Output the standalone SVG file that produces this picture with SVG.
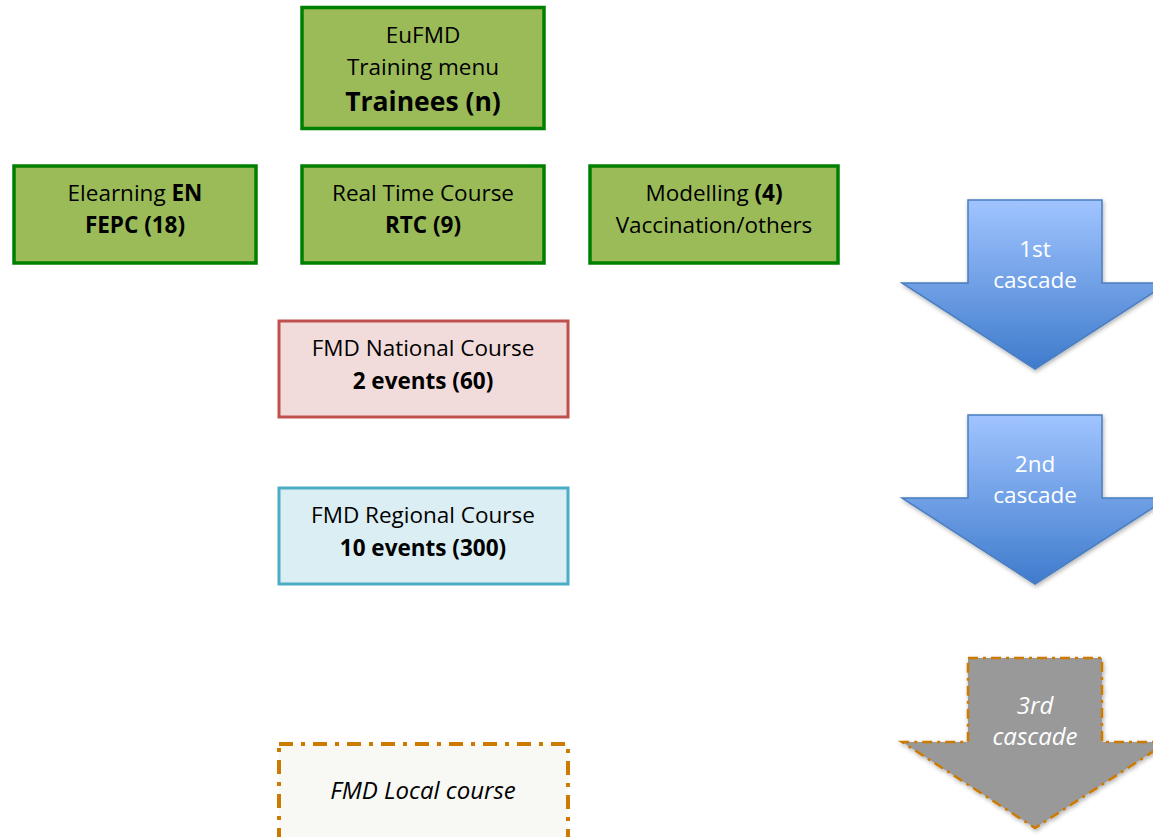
<svg xmlns="http://www.w3.org/2000/svg" width="1153" height="837" viewBox="0 0 1153 837">
<style>
text{font-family:"Open Sans","Noto Sans","Liberation Sans",sans-serif;font-size:22.5px;text-anchor:middle;fill:#000}
.g{fill:#9BBB59;stroke:#008000;stroke-width:3.5}
.b{font-weight:bold}
.w{fill:#fff}
.i{font-style:italic;font-size:24px}
</style>
<defs>
<linearGradient id="bl" x1="0" y1="0" x2="0" y2="1">
<stop offset="0" stop-color="#A0C4FF"/>
<stop offset="1" stop-color="#3F7BCC"/>
</linearGradient>
<filter id="sh" x="-10%" y="-10%" width="130%" height="130%">
<feDropShadow dx="1" dy="2" stdDeviation="2" flood-color="#000" flood-opacity="0.3"/>
</filter>
</defs>
<g id="n-eufmd"><rect class="g" x="302" y="7.5" width="242" height="121"/>
<text x="423" y="43">EuFMD</text><text x="423" y="75">Training menu</text><text x="423" y="111" class="b" style="font-size:26.5px">Trainees (n)</text></g>
<g id="n-elearning"><rect class="g" x="14" y="166" width="242" height="97"/>
<text x="135" y="201">Elearning <tspan class="b">EN</tspan></text><text x="135" y="233" class="b">FEPC (18)</text></g>
<g id="n-rtc"><rect class="g" x="302" y="166" width="242" height="97"/>
<text x="423" y="201">Real Time Course</text><text x="423" y="233" class="b">RTC (9)</text></g>
<g id="n-modelling"><rect class="g" x="590" y="166" width="248" height="97"/>
<text x="714" y="201">Modelling <tspan class="b">(4)</tspan></text><text x="714" y="233">Vaccination/others</text></g>
<g id="n-national"><rect x="279" y="321" width="289" height="96" fill="#F2DCDB" stroke="#C0504D" stroke-width="3"/>
<text x="423" y="356">FMD National Course</text><text x="423" y="389" class="b">2 events (60)</text></g>
<g id="n-regional"><rect x="279" y="488" width="289" height="96" fill="#DAEEF3" stroke="#4BACC6" stroke-width="3"/>
<text x="423" y="523">FMD Regional Course</text><text x="423" y="556" class="b">10 events (300)</text></g>
<g id="n-local"><rect x="279" y="744" width="289" height="100" fill="#F8F8F4" stroke="#CC7A00" stroke-width="4" stroke-dasharray="14,8,4,8"/>
<text x="423" y="799" class="i">FMD Local course</text></g>
<g id="arrows">
<g id="a1"><path d="M968,200 H1102 V283 H1168 L1035,369 L902,283 H968 Z" fill="url(#bl)" stroke="#4A7EC0" stroke-width="1.5" filter="url(#sh)"/>
<text x="1035" y="257" class="w">1st</text><text x="1035" y="288" class="w">cascade</text></g>
<g id="a2"><path d="M968,415 H1102 V498 H1168 L1035,584 L902,498 H968 Z" fill="url(#bl)" stroke="#4A7EC0" stroke-width="1.5" filter="url(#sh)"/>
<text x="1035" y="472" class="w">2nd</text><text x="1035" y="503" class="w">cascade</text></g>
<g id="a3"><path d="M968,658 H1102 V742 H1168 L1035,828 L902,742 H968 Z" fill="#999" stroke="#CC7A00" stroke-width="2.5" stroke-dasharray="10,5,3,5" filter="url(#sh)"/>
<text x="1035" y="714" class="w i">3rd</text><text x="1035" y="745" class="w i">cascade</text></g>
</g>
</svg>
